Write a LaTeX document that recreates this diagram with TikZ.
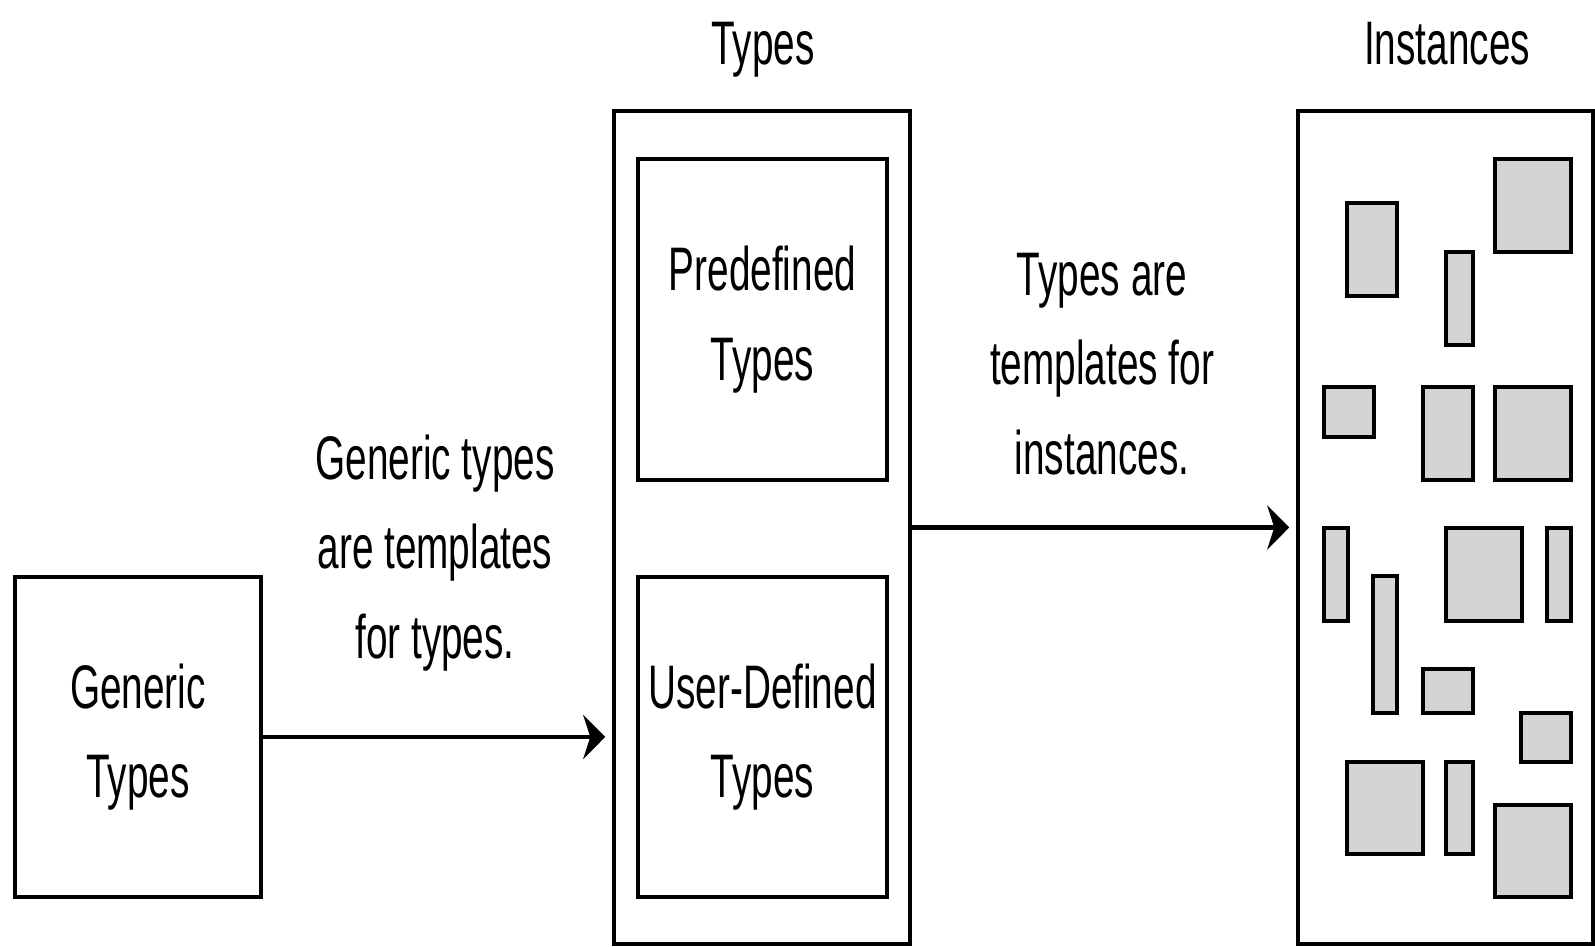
\documentclass[tikz,border=0pt]{standalone}
\usepackage{fontspec}
\usepackage{tikz}
\usetikzlibrary{arrows.meta}
\newfontfamily\narrowsans{Liberation Sans}[FakeStretch=0.63]
\definecolor{instgray}{RGB}{212,212,212}

\begin{document}
\begin{tikzpicture}[
    every node/.style={font=\narrowsans\fontsize{17.5}{25.5}\selectfont, align=center},
    box/.style={draw, line width=1pt, inner sep=0pt},
    inst/.style={draw, line width=1.2pt, fill=instgray},
    arr/.style={line width=1.2pt, shorten >=0.7mm, -{Stealth[length=2.2mm, width=4.4mm, inset=0.7mm]}}
]
    \useasboundingbox (0,0) rectangle (15.95,9.47);

    % left column
    \node[box, minimum width=2.46cm, minimum height=3.2cm] (generic) at (1.38,2.10) {Generic\\Types};

    % types column
    \node[box, minimum width=2.96cm, minimum height=8.33cm] (types) at (7.62,4.195) {};
    \node[anchor=base] (typestitle) at (7.63,8.82) {Types};
    \node[box, minimum width=2.49cm, minimum height=3.21cm] (predef) at (7.625,6.275) {Predefined\\Types};
    \node[box, minimum width=2.49cm, minimum height=3.2cm] (userdef) at (7.625,2.10) {User-Defined\\Types};

    % instances column
    \node[box, minimum width=2.95cm, minimum height=8.33cm] (instances) at (14.455,4.195) {};
    \node[anchor=base] (insttitle) at (14.47,8.82) {Instances};
    \draw[inst] (13.47,6.51) rectangle (13.97,7.44);
    \draw[inst] (14.95,6.95) rectangle (15.71,7.88);
    \draw[inst] (14.46,6.02) rectangle (14.73,6.95);
    \draw[inst] (13.24,5.10) rectangle (13.74,5.60);
    \draw[inst] (14.23,4.67) rectangle (14.73,5.60);
    \draw[inst] (14.95,4.67) rectangle (15.71,5.60);
    \draw[inst] (13.24,3.26) rectangle (13.48,4.19);
    \draw[inst] (14.46,3.26) rectangle (15.22,4.19);
    \draw[inst] (15.47,3.26) rectangle (15.71,4.19);
    \draw[inst] (13.73,2.34) rectangle (13.97,3.71);
    \draw[inst] (14.23,2.34) rectangle (14.73,2.78);
    \draw[inst] (15.21,1.85) rectangle (15.71,2.34);
    \draw[inst] (13.47,0.93) rectangle (14.23,1.85);
    \draw[inst] (14.46,0.93) rectangle (14.73,1.85);
    \draw[inst] (14.95,0.50) rectangle (15.71,1.42);

    % arrows and their labels
    \draw[arr] (generic.east) -- (generic.east -| types.west);
    \node (lblgeneric) at (4.35,3.94) {Generic types\\are templates\\for types.};
    \draw[arr] (types.east) -- (instances.west);
    \node (lblinst) at (11.02,5.83) {Types are\\templates for\\instances.};
\end{tikzpicture}
\end{document}
